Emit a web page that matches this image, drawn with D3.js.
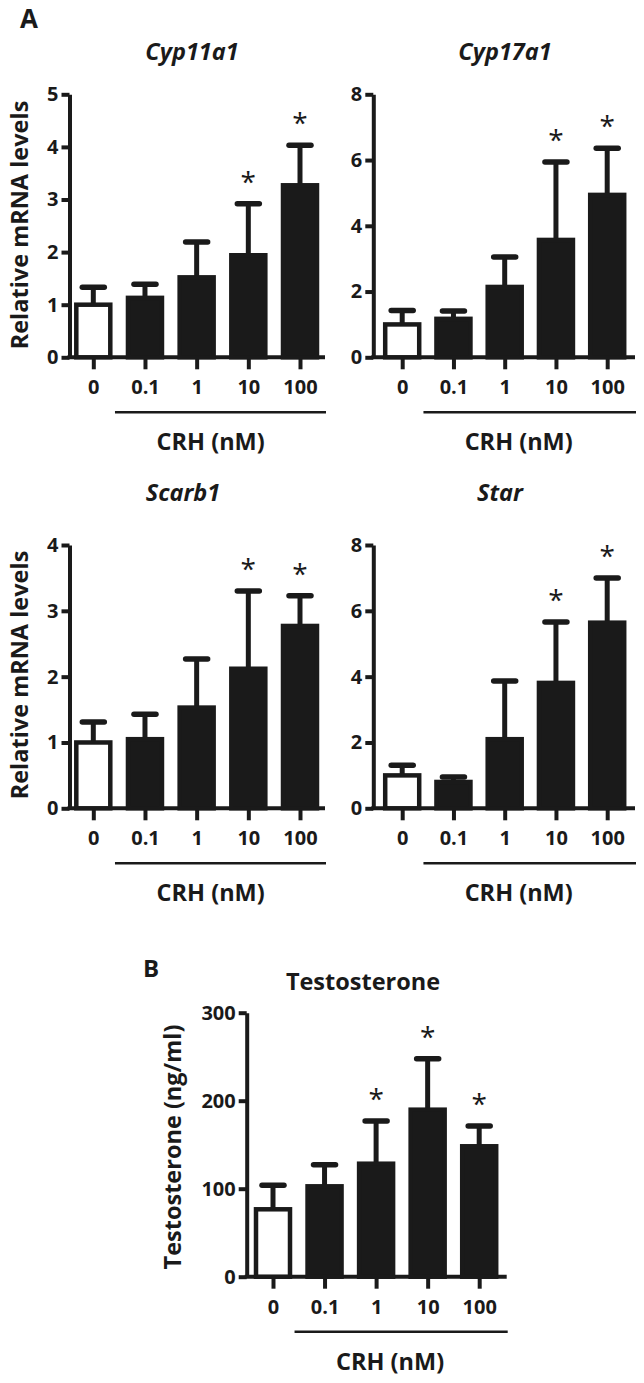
<!DOCTYPE html>
<html>
<head>
<meta charset="utf-8">
<script src="https://cdn.jsdelivr.net/npm/d3@7"></script>
<style>
  html, body { margin: 0; padding: 0; background: #fff; }
  svg text { font-family: "Open Sans", "DejaVu Sans", sans-serif; fill: #1a1a1a; }
</style>
</head>
<body>
<svg id="chart" width="644" height="1383"></svg>
<script>
// ---------- data ----------
const categories = ["0", "0.1", "1", "10", "100"];

const cyp11a1Mean = [1.0, 1.13, 1.52, 1.94, 3.27];
const cyp11a1Upper = [1.33, 1.39, 2.19, 2.92, 4.03];
const cyp11a1Sig = [false, false, false, true, true];
const cyp11a1Ticks = [0, 1, 2, 3, 4, 5];

const cyp17a1Mean = [1.0, 1.17, 2.14, 3.57, 4.94];
const cyp17a1Upper = [1.42, 1.41, 3.05, 5.94, 6.36];
const cyp17a1Sig = [false, false, false, true, true];
const cyp17a1Ticks = [0, 2, 4, 6, 8];

const scarb1Mean = [1.0, 1.05, 1.53, 2.12, 2.77];
const scarb1Upper = [1.31, 1.43, 2.27, 3.30, 3.23];
const scarb1Sig = [false, false, false, true, true];
const scarb1Ticks = [0, 1, 2, 3, 4];

const starMean = [1.0, 0.80, 2.10, 3.81, 5.64];
const starUpper = [1.31, 0.95, 3.87, 5.66, 7.0];
const starSig = [false, false, false, true, true];
const starTicks = [0, 2, 4, 6, 8];

const testoMean = [76.6, 102.7, 128.4, 189.8, 148.2];
const testoUpper = [103.9, 127.3, 177, 247.7, 171.2];
const testoSig = [false, false, true, true, true];
const testoTicks = [0, 100, 200, 300];

// ---------- drawing ----------
const ink = "#1a1a1a";
const svg = d3.select("#chart");

function panel(o) {
  const g = svg.append("g");
  const y = d3.scaleLinear().domain([0, o.ticks[o.ticks.length - 1]]).range([o.yBottom, o.yTop]);
  const x = d3.scalePoint().domain(categories).range([o.c0, o.c1]);
  const bw = 34;

  // x axis line
  g.append("line").attr("x1", o.axisX - 2).attr("x2", o.xEnd)
    .attr("y1", o.yBottom).attr("y2", o.yBottom)
    .attr("stroke", ink).attr("stroke-width", 4);

  // x ticks
  const xa = g.append("g").attr("transform", `translate(0,${o.yBottom})`)
    .call(d3.axisBottom(x).tickSize(12).tickSizeOuter(0).tickPadding(11));
  xa.select(".domain").remove();
  xa.selectAll(".tick line").attr("stroke", ink).attr("stroke-width", 4);
  xa.selectAll(".tick text").attr("font-size", 20).attr("font-weight", 700)
    .attr("font-family", "Open Sans").attr("fill", ink);

  // y axis
  const ya = g.append("g").attr("transform", `translate(${o.axisX},0)`)
    .call(d3.axisLeft(y).tickValues(o.ticks).tickSize(8).tickSizeOuter(0).tickPadding(3).tickFormat(d3.format("d")));
  ya.select(".domain").attr("stroke", ink).attr("stroke-width", 4);
  ya.selectAll(".tick line").attr("stroke", ink).attr("stroke-width", 4);
  ya.selectAll(".tick text").attr("font-size", 20).attr("font-weight", 700)
    .attr("font-family", "Open Sans").attr("fill", ink);

  // error bars
  categories.forEach((c, i) => {
    const cx = x(c);
    g.append("line").attr("x1", cx).attr("x2", cx)
      .attr("y1", y(o.mean[i])).attr("y2", y(o.upper[i]))
      .attr("stroke", ink).attr("stroke-width", 5);
    g.append("line").attr("x1", cx - 11).attr("x2", cx + 11)
      .attr("y1", y(o.upper[i])).attr("y2", y(o.upper[i]))
      .attr("stroke", ink).attr("stroke-width", 5.5).attr("stroke-linecap", "round");
  });

  // bars
  g.selectAll("rect.bar").data(o.mean).enter().append("rect")
    .attr("class", "bar")
    .attr("x", (d, i) => x(categories[i]) - bw / 2)
    .attr("width", bw)
    .attr("y", d => y(d))
    .attr("height", d => o.yBottom - y(d))
    .attr("fill", (d, i) => i === 0 ? "#fff" : ink)
    .attr("stroke", ink).attr("stroke-width", 4.5);

  // asterisks
  categories.forEach((c, i) => {
    if (o.sig[i]) {
      g.append("text").attr("x", x(c)).attr("y", y(o.upper[i]) - 12)
        .attr("text-anchor", "middle").attr("font-size", 28).attr("font-weight", 400)
        .attr("font-family", "DejaVu Sans")
        .text("*");
    }
  });

  // underline + CRH label
  g.append("line").attr("x1", x(categories[1]) - 30).attr("x2", o.xEnd + 1)
    .attr("y1", o.yBottom + 55).attr("y2", o.yBottom + 55)
    .attr("stroke", ink).attr("stroke-width", 2.4);
  g.append("text").attr("x", x(categories[2]) + 14).attr("y", o.yBottom + 93)
    .attr("text-anchor", "middle").attr("font-size", 23.5).attr("font-weight", 700)
    .text("CRH (nM)");

  // title
  g.append("text").attr("x", o.titleX).attr("y", o.titleY)
    .attr("text-anchor", "middle").attr("font-size", 23.5).attr("font-weight", 700)
    .attr("font-style", o.italic ? "italic" : "normal")
    .text(o.title);

  // y label
  if (o.yLabel) {
    g.append("text")
      .attr("transform", `translate(${o.yLabelX},${o.yLabelY}) rotate(-90)`)
      .attr("text-anchor", "middle").attr("dominant-baseline", "central")
      .attr("font-size", 23.5).attr("font-weight", 700)
      .text(o.yLabel);
  }
}

panel({ axisX: 69.5, xEnd: 325, yTop: 94.3, yBottom: 357.3, c0: 93.3, c1: 300,
  mean: cyp11a1Mean, upper: cyp11a1Upper, sig: cyp11a1Sig, ticks: cyp11a1Ticks,
  title: "Cyp11a1", italic: true, titleX: 192, titleY: 60,
  yLabel: "Relative mRNA levels", yLabelX: 19, yLabelY: 225 });

panel({ axisX: 373.3, xEnd: 635, yTop: 94.3, yBottom: 357.3, c0: 402.2, c1: 607.2,
  mean: cyp17a1Mean, upper: cyp17a1Upper, sig: cyp17a1Sig, ticks: cyp17a1Ticks,
  title: "Cyp17a1", italic: true, titleX: 505, titleY: 60 });

panel({ axisX: 69.5, xEnd: 325, yTop: 545, yBottom: 808.3, c0: 93.3, c1: 300,
  mean: scarb1Mean, upper: scarb1Upper, sig: scarb1Sig, ticks: scarb1Ticks,
  title: "Scarb1", italic: true, titleX: 183, titleY: 501,
  yLabel: "Relative mRNA levels", yLabelX: 19, yLabelY: 675 });

panel({ axisX: 373.3, xEnd: 635, yTop: 545, yBottom: 808.3, c0: 402.2, c1: 607.2,
  mean: starMean, upper: starUpper, sig: starSig, ticks: starTicks,
  title: "Star", italic: true, titleX: 500, titleY: 501 });

panel({ axisX: 246.7, xEnd: 506.7, yTop: 1012.7, yBottom: 1276.7, c0: 273, c1: 479.2,
  mean: testoMean, upper: testoUpper, sig: testoSig, ticks: testoTicks,
  title: "Testosterone", italic: false, titleX: 363, titleY: 990,
  yLabel: "Testosterone (ng/ml)", yLabelX: 172, yLabelY: 1147 });

// panel letters
svg.append("text").attr("x", 20).attr("y", 28).attr("font-size", 26).attr("font-weight", 700).text("A");
svg.append("text").attr("x", 143).attr("y", 977).attr("font-size", 24).attr("font-weight", 700).text("B");
</script>
</body>
</html>
